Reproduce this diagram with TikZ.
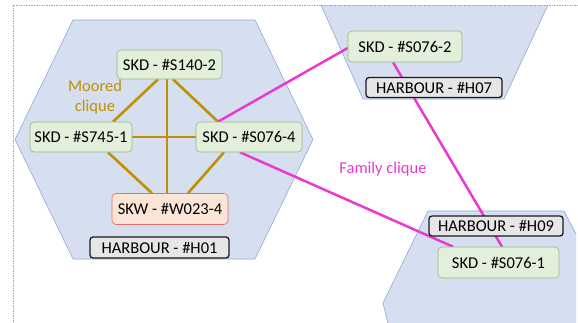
\documentclass[tikz,border=0pt]{standalone}
\usepackage{fontspec}
\setmainfont{Carlito}
\usetikzlibrary{calc}
\definecolor{hexfill}{RGB}{214,223,240}
\definecolor{hexline}{RGB}{143,168,214}
\definecolor{skdfill}{RGB}{226,239,218}
\definecolor{skdline}{RGB}{150,180,130}
\definecolor{skwfill}{RGB}{251,229,214}
\definecolor{skwline}{RGB}{226,110,110}
\definecolor{harbfill}{RGB}{231,230,230}
\definecolor{goldc}{RGB}{191,144,0}
\definecolor{famc}{RGB}{232,58,208}
\pgfdeclarelayer{bg}
\pgfdeclarelayer{edges}
\pgfsetlayers{bg,edges,main}
\tikzset{
  boxbase/.style={rounded corners=4pt, inner sep=0pt, font=\fontsize{16.5}{19}\selectfont, align=center},
  skd/.style={boxbase, draw=skdline, fill=skdfill, line width=0.6pt},
  skw/.style={boxbase, draw=skwline, fill=skwfill, line width=0.6pt},
  harb/.style={boxbase, draw=black!90, fill=harbfill, line width=1.3pt, rounded corners=3pt},
  hexa/.style={fill=hexfill, draw=hexline, line width=0.6pt},
  goldline/.style={draw=goldc, line width=2.6pt},
  famline/.style={draw=famc, line width=2.5pt},
  lbl/.style={inner sep=0pt, font=\fontsize{16.5}{20}\selectfont, align=center},
  frameline/.style={draw=black!35, line width=0.5pt, dash pattern=on 1.5pt off 1pt}
}
\begin{document}
\begin{tikzpicture}[x=1pt,y=-1pt]
\useasboundingbox (0,0) rectangle (578,322);
\begin{pgfonlayer}{bg}
\fill[white] (0,0) rectangle (578,322);
\begin{scope}
\clip (0,0) rectangle (576,322);
% H01 hexagon
\path[hexa] (15,139.5) -- (73,20) -- (255,20) -- (313,139.5) -- (255,259) -- (73,259) -- cycle;
% H07 (cut at top)
\fill[hexfill] (321,5) -- (363,99) -- (504,99) -- (548,5) -- cycle;
\draw[hexline, line width=0.6pt] (321,5) -- (363,99) -- (504,99) -- (548,5);
% H09
\path[hexa] (392,340) -- (383,303) -- (428,211) -- (564,211) -- (600,280) -- (600,340) -- cycle;
\end{scope}
\draw[frameline] (578,5) -- (13,5) -- (13,322);
\end{pgfonlayer}

% nodes
\node[skd, minimum width=105pt, minimum height=29pt] (s1402) at (169.5,64.5) {SKD - \#S140-2};
\node[skd, minimum width=102pt, minimum height=30pt] (s7451) at (81,137) {SKD - \#S745-1};
\node[skd, minimum width=106pt, minimum height=30pt] (s0764) at (249,137) {SKD - \#S076-4};
\node[skw, minimum width=116pt, minimum height=31pt] (w0234) at (170,209) {SKW - \#W023-4};
\node[harb, minimum width=139pt, minimum height=21pt] (h01) at (159.5,247.5) {HARBOUR - \#H01};
\node[skd, minimum width=114pt, minimum height=31pt] (s0762) at (405,46.5) {SKD - \#S076-2};
\node[harb, minimum width=136pt, minimum height=20pt] (h07) at (434,87.5) {HARBOUR - \#H07};
\node[harb, minimum width=134pt, minimum height=20pt] (h09) at (496,226) {HARBOUR - \#H09};
\node[skd, minimum width=121pt, minimum height=31pt] (s0761) at (498.5,262.5) {SKD - \#S076-1};

\node[lbl, text=goldc] (moored) at (95,97) {Moored\\clique};
\node[lbl, text=famc] (family) at (383,169) {Family clique};

\begin{pgfonlayer}{edges}
\draw[goldline] ($(s1402.south)+(-11.5,0)$) -- ($(s7451.north)+(32,0)$);
\draw[goldline] ($(s1402.south)+(-2.5,0)$) -- ($(w0234.north)+(-3,0)$);
\draw[goldline] ($(s1402.south)+(3.5,0)$) -- ($(s0764.north)+(-31,0)$);
\draw[goldline] (s7451.east) -- (s0764.west);
\draw[goldline] ($(s7451.south)+(27,0)$) -- ($(w0234.north)+(-18,0)$);
\draw[goldline] ($(s0764.south)+(-25,0)$) -- ($(w0234.north)+(18,0)$);
\draw[famline] ($(s0764.north)+(-31,0)$) -- ($(s0762.west)+(0,1.5)$);
\draw[famline] ($(s0764.south)+(-9,0)$) -- ($(s0761.north)+(-45.5,0)$);
\draw[famline] ($(s0762.south)+(-12,0)$) -- ($(s0761.north)+(3.5,0)$);
\end{pgfonlayer}
\end{tikzpicture}
\end{document}
